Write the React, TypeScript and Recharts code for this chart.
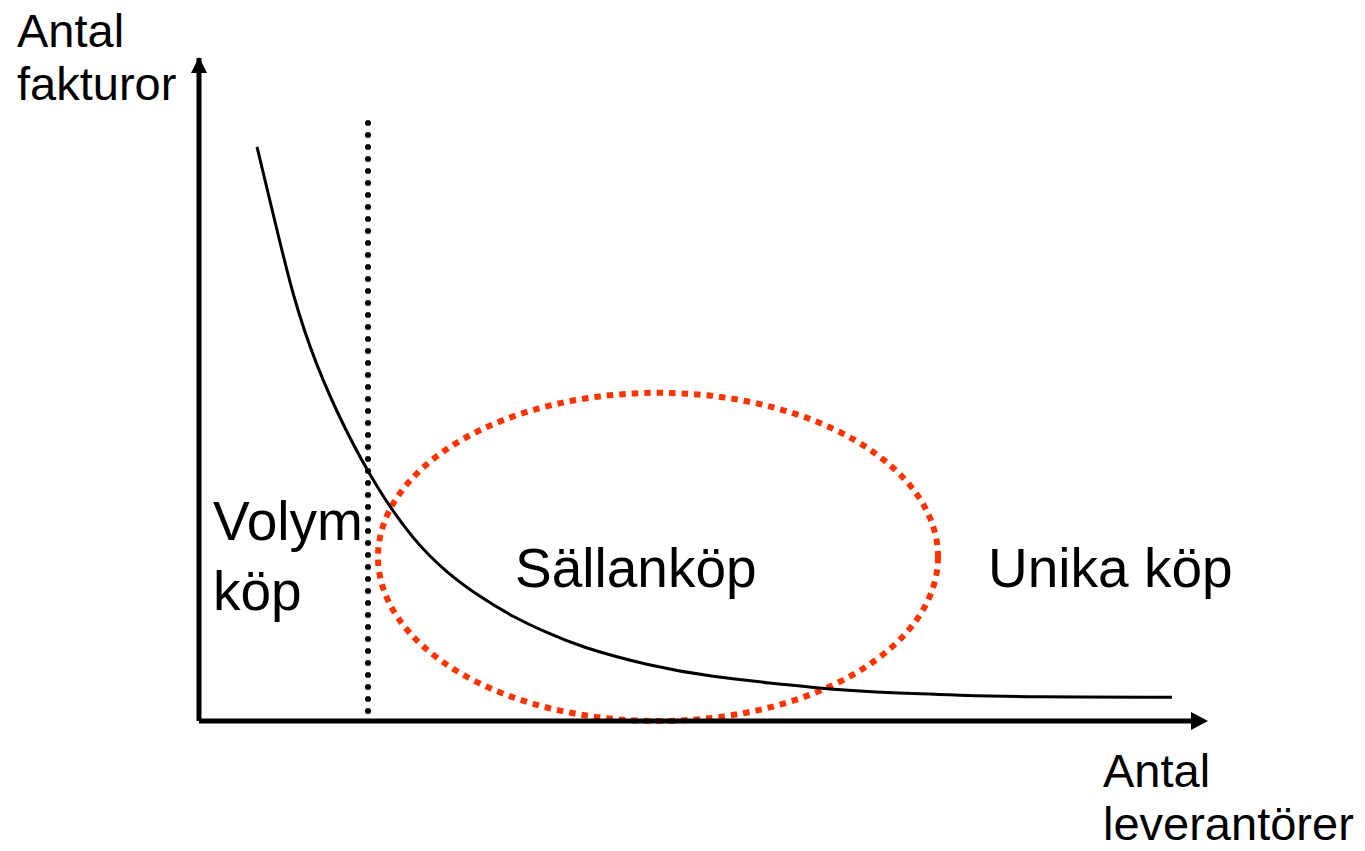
import {
  ComposedChart,
  Line,
  XAxis,
  YAxis,
  ReferenceLine,
  ReferenceArea,
  ReferenceDot,
  Label,
} from 'recharts';

// antal leverantörer (x) och antal fakturor (y), skala 0-100
const suppliers = [5.8, 7.6, 9.4, 11.6, 14.6, 17.8, 21.4, 24.8, 28.1, 31.4, 34.8, 38.1, 44.8, 51.4, 58.1, 62.8, 69.4, 76.1, 82.8, 97.3];
const invoices = [86.6, 75.3, 64.0, 54.0, 43.9, 35.1, 27.3, 22.3, 18.7, 15.7, 13.3, 11.2, 8.4, 6.6, 5.6, 4.8, 4.2, 3.9, 3.6, 3.6];

// gräns volymköp, och sällanköp-området
const volumeLimit = 16.9;
const volumeLimitTop = 90.2;
const rareRange = [17.9, 73.9];
const rareHeight = [0, 49.5];

const yTitle = ['Antal', 'fakturor'];
const xTitle = ['Antal', 'leverantörer'];
const volumeText = ['Volym', 'köp'];
const rareText = 'Sällanköp';
const uniqueText = 'Unika köp';

const data = suppliers.map((x, i) => ({ x, y: invoices[i] }));

const font = '"Liberation Sans", Arial, sans-serif';
const red = '#FF3300';

const TwoLines = ({ x, y, lines, size, gap }: any) => (
  <text x={x} y={y} fontFamily={font} fontSize={size} fill="#000">
    {lines.map((t: string, i: number) => (
      <tspan key={t} x={x} dy={i === 0 ? 0 : gap}>{t}</tspan>
    ))}
  </text>
);

export default function App() {
  return (
    <div style={{ position: 'absolute', left: 0, top: 0, background: '#fff' }}>
      <ComposedChart
        width={1365}
        height={851}
        data={data}
        margin={{ top: 58, right: 166, bottom: 120, left: 189 }}
      >
        <XAxis
          type="number"
          dataKey="x"
          domain={[0, 100]}
          height={10}
          tick={false}
          tickLine={false}
          axisLine={{ stroke: '#000', strokeWidth: 5 }}
        >
          <Label content={() => <TwoLines x={1103} y={787} lines={xTitle} size={47} gap={53} />} />
        </XAxis>
        <YAxis
          type="number"
          domain={[0, 100]}
          width={10}
          tick={false}
          tickLine={false}
          axisLine={{ stroke: '#000', strokeWidth: 5 }}
        >
          <Label content={() => <TwoLines x={17} y={47} lines={yTitle} size={47} gap={53} />} />
        </YAxis>

        <ReferenceArea
          x1={rareRange[0]}
          x2={rareRange[1]}
          y1={rareHeight[0]}
          y2={rareHeight[1]}
          ifOverflow="visible"
          shape={(p: any) => (
            <ellipse
              cx={p.x + p.width / 2}
              cy={p.y + p.height / 2}
              rx={p.width / 2}
              ry={p.height / 2}
              fill="none"
              stroke={red}
              strokeWidth={6}
              strokeDasharray="6.5 6"
            />
          )}
        />

        <ReferenceLine
          segment={[{ x: volumeLimit, y: volumeLimitTop }, { x: volumeLimit, y: 0 }]}
          stroke="#000"
          strokeWidth={6}
          strokeDasharray="0 12"
          strokeLinecap="round"
          ifOverflow="visible"
        />

        <Line
          type="basis"
          dataKey="y"
          stroke="#000"
          strokeWidth={3}
          dot={false}
          activeDot={false}
          isAnimationActive={false}
        />

        {/* pilspetsar på axlarna */}
        <ReferenceDot
          x={0}
          y={100}
          ifOverflow="visible"
          shape={(p: any) => (
            <path d={`M${p.cx} ${p.cy - 1} L${p.cx + 8} ${p.cy + 15} L${p.cx - 8} ${p.cy + 15} Z`} fill="#000" />
          )}
        />
        <ReferenceDot
          x={100}
          y={0}
          ifOverflow="visible"
          shape={(p: any) => (
            <path d={`M${p.cx + 9} ${p.cy} L${p.cx - 8} ${p.cy - 9} L${p.cx - 8} ${p.cy + 9} Z`} fill="#000" />
          )}
        />

        {/* områdestexter */}
        <ReferenceDot
          x={1.4}
          y={27.3}
          ifOverflow="visible"
          shape={(p: any) => <TwoLines x={p.cx} y={p.cy} lines={volumeText} size={55} gap={70} />}
        />
        <ReferenceDot
          x={31.6}
          y={20.2}
          ifOverflow="visible"
          shape={(p: any) => (
            <text x={p.cx} y={p.cy} fontFamily={font} fontSize={55} fill="#000">{rareText}</text>
          )}
        />
        <ReferenceDot
          x={78.9}
          y={20.2}
          ifOverflow="visible"
          shape={(p: any) => (
            <text x={p.cx} y={p.cy} fontFamily={font} fontSize={55} fill="#000">{uniqueText}</text>
          )}
        />
      </ComposedChart>
    </div>
  );
}
